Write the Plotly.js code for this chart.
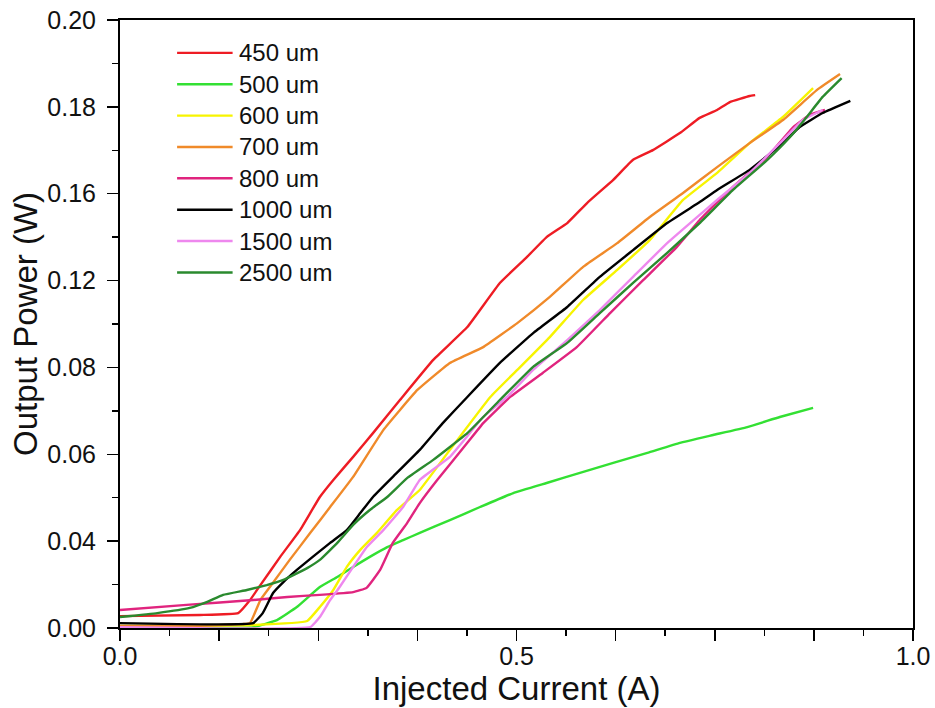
<!DOCTYPE html>
<html>
<head>
<meta charset="utf-8">
<script src="https://cdn.plot.ly/plotly-3.0.1.min.js"></script>
<style>html,body{margin:0;padding:0;background:#fff;}#chart{width:935px;height:708px;}</style>
</head>
<body>
<div id="chart"></div>
<script>
// ---- Data ----
const seriesNames = ["450 um", "500 um", "600 um", "700 um", "800 um", "1000 um", "1500 um", "2500 um"];
const seriesColors = ["#ee1c24", "#33e033", "#f7f400", "#f08a2a", "#e0247e", "#000000", "#ee88ee", "#2a8a2e"];

const current450 = [0, 0.101, 0.149, 0.164, 0.177, 0.202, 0.227, 0.252, 0.269, 0.294, 0.319, 0.353, 0.395, 0.438, 0.479, 0.513, 0.538, 0.564, 0.589, 0.622, 0.647, 0.672, 0.706, 0.731, 0.753, 0.769, 0.794, 0.801];
const power450   = [0.0039, 0.0043, 0.0049, 0.0092, 0.0141, 0.0234, 0.0322, 0.0431, 0.0487, 0.0563, 0.0641, 0.075, 0.0882, 0.099, 0.1135, 0.122, 0.1286, 0.1332, 0.1398, 0.1474, 0.154, 0.1572, 0.1628, 0.1678, 0.1704, 0.173, 0.175, 0.1753];

const current500 = [0, 0.168, 0.198, 0.223, 0.252, 0.274, 0.294, 0.315, 0.337, 0.357, 0.378, 0.416, 0.454, 0.496, 0.538, 0.580, 0.622, 0.665, 0.706, 0.748, 0.791, 0.832, 0.874];
const power500   = [0.0003, 0.0003, 0.0026, 0.0069, 0.0135, 0.0168, 0.0201, 0.0234, 0.0266, 0.0289, 0.0313, 0.0355, 0.0398, 0.0444, 0.0477, 0.051, 0.0543, 0.0576, 0.0609, 0.0635, 0.0661, 0.0694, 0.0724];

const current600 = [0, 0.168, 0.236, 0.252, 0.269, 0.286, 0.303, 0.324, 0.349, 0.378, 0.416, 0.467, 0.501, 0.542, 0.584, 0.627, 0.668, 0.710, 0.753, 0.794, 0.836, 0.874];
const power600   = [0.0007, 0.001, 0.0023, 0.0069, 0.0125, 0.0201, 0.0257, 0.0313, 0.0388, 0.0454, 0.0586, 0.076, 0.0849, 0.0957, 0.1079, 0.1178, 0.1276, 0.1408, 0.1497, 0.1595, 0.1681, 0.1776];

const current700 = [0, 0.101, 0.155, 0.164, 0.177, 0.189, 0.214, 0.240, 0.265, 0.294, 0.332, 0.375, 0.416, 0.458, 0.501, 0.542, 0.584, 0.627, 0.668, 0.710, 0.753, 0.794, 0.836, 0.879, 0.908];
const power700   = [0.0007, 0.0007, 0.0013, 0.0016, 0.0092, 0.0135, 0.0224, 0.0313, 0.0398, 0.0497, 0.0651, 0.0783, 0.0872, 0.0924, 0.1003, 0.1089, 0.1188, 0.1266, 0.1352, 0.1431, 0.1516, 0.1595, 0.1671, 0.177, 0.1822];

const current800 = [0, 0.084, 0.168, 0.211, 0.252, 0.294, 0.311, 0.328, 0.344, 0.362, 0.378, 0.400, 0.438, 0.458, 0.492, 0.533, 0.576, 0.618, 0.660, 0.702, 0.731, 0.773, 0.816, 0.849, 0.870, 0.889];
const power800   = [0.0059, 0.0076, 0.0092, 0.0102, 0.0109, 0.0118, 0.0132, 0.0191, 0.028, 0.0345, 0.0411, 0.0487, 0.0609, 0.0674, 0.076, 0.0839, 0.0924, 0.1036, 0.1145, 0.1253, 0.1342, 0.1451, 0.1549, 0.1648, 0.1688, 0.1704];

const current1000 = [0, 0.168, 0.180, 0.193, 0.206, 0.223, 0.243, 0.265, 0.286, 0.303, 0.319, 0.344, 0.378, 0.407, 0.438, 0.479, 0.521, 0.564, 0.605, 0.647, 0.690, 0.731, 0.753, 0.794, 0.836, 0.857, 0.886, 0.921];
const power1000   = [0.0016, 0.0016, 0.0049, 0.0115, 0.0151, 0.0191, 0.0234, 0.028, 0.0322, 0.0378, 0.0431, 0.0497, 0.0586, 0.0674, 0.076, 0.0872, 0.097, 0.1056, 0.1155, 0.1243, 0.1332, 0.1401, 0.1441, 0.1507, 0.1595, 0.1648, 0.1694, 0.1734];

const current1500 = [0, 0.240, 0.252, 0.265, 0.277, 0.294, 0.311, 0.332, 0.357, 0.378, 0.416, 0.458, 0.488, 0.521, 0.564, 0.605, 0.647, 0.690, 0.731, 0.753, 0.794, 0.836, 0.861, 0.886];
const power1500   = [0.0003, 0.0003, 0.0036, 0.0092, 0.0135, 0.0201, 0.0266, 0.0322, 0.0398, 0.0487, 0.0563, 0.0694, 0.076, 0.0849, 0.0947, 0.1046, 0.1155, 0.1266, 0.1359, 0.1408, 0.1497, 0.1605, 0.1671, 0.1704];

const current2500 = [0, 0.047, 0.088, 0.110, 0.130, 0.160, 0.185, 0.206, 0.236, 0.252, 0.274, 0.294, 0.315, 0.337, 0.362, 0.395, 0.438, 0.479, 0.521, 0.564, 0.605, 0.647, 0.690, 0.731, 0.773, 0.816, 0.845, 0.866, 0.886, 0.910];
const power2500   = [0.0036, 0.0049, 0.0066, 0.0086, 0.0109, 0.0125, 0.0141, 0.0158, 0.0197, 0.0224, 0.028, 0.0339, 0.0388, 0.0431, 0.0493, 0.0553, 0.0641, 0.075, 0.0859, 0.0938, 0.1036, 0.1135, 0.1234, 0.1332, 0.1441, 0.1539, 0.1615, 0.1681, 0.1747, 0.1809];

// Axis tick labels exactly as printed in the reference (evenly spaced marks)
const yTickLabels = ["0.00", "0.04", "0.06", "0.08", "0.12", "0.16", "0.18", "0.20"];
const xTickLabels = ["0.0", "", "", "", "0.5", "", "", "", "1.0"];

// ---- Build chart ----
const xs = [current450, current500, current600, current700, current800, current1000, current1500, current2500];
const ys = [power450, power500, power600, power700, power800, power1000, power1500, power2500];

const traces = seriesNames.map((n, i) => ({
  type: 'scatter', mode: 'lines', name: n,
  x: xs[i], y: ys[i],
  line: {color: seriesColors[i], width: 2.4, shape: 'spline', smoothing: 0.3},
  showlegend: false, hoverinfo: 'skip'
}));

const yMax = 0.2;
const yStep = yMax / (yTickLabels.length - 1);
const yTickVals = yTickLabels.map((_, i) => i * yStep);
const xTickVals = xTickLabels.map((_, i) => i * 0.125);

const tickFont = {family: 'Liberation Sans, Arial, sans-serif', size: 25, color: '#111'};
const titleFont = {family: 'Liberation Sans, Arial, sans-serif', size: 33, color: '#111'};

// custom legend
const legTop = 0.946, legStep = 0.0516;
const shapes = [], annotations = [];
seriesNames.forEach((n, i) => {
  const yy = legTop - i * legStep;
  shapes.push({type: 'line', xref: 'paper', yref: 'paper', x0: 0.072, x1: 0.142, y0: yy, y1: yy,
    line: {color: seriesColors[i], width: 2.4}});
  annotations.push({xref: 'paper', yref: 'paper', x: 0.148, y: yy, xanchor: 'left', yanchor: 'middle',
    text: n, showarrow: false, font: {family: 'Liberation Sans, Arial, sans-serif', size: 24, color: '#111'}});
});

const layout = {
  width: 935, height: 708,
  margin: {l: 120, r: 22, t: 20, b: 80, autoexpand: false},
  paper_bgcolor: '#fff', plot_bgcolor: '#fff',
  showlegend: false,
  xaxis: {
    range: [0, 1], tickmode: 'array', tickvals: xTickVals, ticktext: xTickLabels,
    ticks: 'outside', ticklen: 11, tickwidth: 1.5, tickcolor: '#000',
    minor: {dtick: 0.0625, tick0: 0, ticks: 'outside', ticklen: 6, tickwidth: 1.5, tickcolor: '#000'},
    showline: true, linecolor: '#000', linewidth: 2, mirror: true,
    showgrid: false, zeroline: false, automargin: false,
    tickfont: tickFont, ticklabelstandoff: -6,
    title: {text: 'Injected Current (A)', font: titleFont, standoff: 0}
  },
  yaxis: {
    range: [0, yMax], tickmode: 'array', tickvals: yTickVals, ticktext: yTickLabels,
    ticks: 'outside', ticklen: 11, tickwidth: 1.5, tickcolor: '#000',
    minor: {tickvals: yTickVals.slice(0, -1).map(v => v + yStep / 2), ticks: 'outside', ticklen: 6, tickwidth: 1.5, tickcolor: '#000'},
    showline: true, linecolor: '#000', linewidth: 2, mirror: true,
    showgrid: false, zeroline: false, automargin: false,
    tickfont: tickFont, ticklabelstandoff: 6,
    title: {text: 'Output Power (W)', font: titleFont, standoff: 0}
  },
  shapes: shapes,
  annotations: annotations
};

Plotly.newPlot('chart', traces, layout, {displayModeBar: false, staticPlot: true});
</script>
</body>
</html>
